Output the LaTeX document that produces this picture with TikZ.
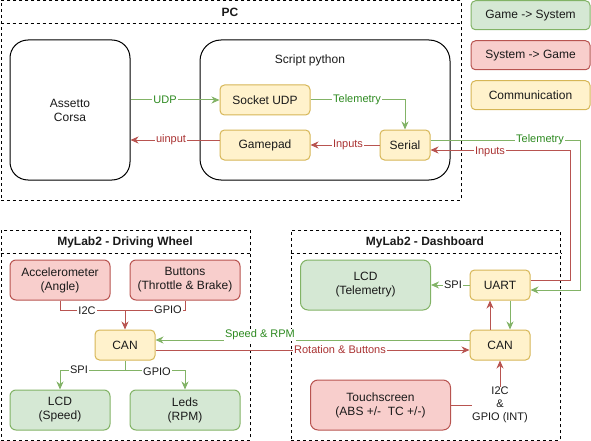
\documentclass[tikz,border=0pt]{standalone}
\usepackage{fontspec}
\setmainfont{Liberation Sans}
\usetikzlibrary{arrows.meta,calc}
\definecolor{gfill}{HTML}{D5E8D4}
\definecolor{gline}{HTML}{82B366}
\definecolor{rfill}{HTML}{F8CECC}
\definecolor{rline}{HTML}{B85450}
\definecolor{yfill}{HTML}{FFF2CC}
\definecolor{yline}{HTML}{D6B656}
\definecolor{gtext}{HTML}{2D8A20}
\definecolor{rtext}{HTML}{AA3333}
\definecolor{boxtext}{HTML}{1A1A1A}
\tikzset{
  base/.style={draw, line width=1pt, align=center, inner sep=0pt, text=boxtext,
    font=\fontsize{12}{14}\selectfont},
  gbox/.style={base, fill=gfill, draw=gline},
  rbox/.style={base, fill=rfill, draw=rline},
  ybox/.style={base, fill=yfill, draw=yline},
  wbox/.style={base, fill=white, draw=black},
  frame/.style={draw=black, line width=0.9pt, dash pattern=on 3pt off 3pt, inner sep=0pt},
  ftitle/.style={font=\bfseries\fontsize{12}{14}\selectfont, text=boxtext, inner sep=0pt},
  gline/.style={draw=gline, line width=1pt},
  rline/.style={draw=rline, line width=1pt},
  tip/.style={-{Stealth[length=8pt,width=7pt,inset=2.5pt]}},
  glbl/.style={fill=white, text=gtext, inner sep=1pt, font=\fontsize{11}{13}\selectfont},
  rlbl/.style={fill=white, text=rtext, inner sep=1pt, font=\fontsize{11}{13}\selectfont},
  klbl/.style={fill=white, text=boxtext, inner sep=1pt, align=center, font=\fontsize{11}{13}\selectfont},
}
\begin{document}
\begin{tikzpicture}[x=1pt,y=-1pt]
\useasboundingbox (0,0) rectangle (591,441);

% frames
\node[frame, minimum width=460pt, minimum height=199.5pt, anchor=north west] (pc) at (0.5,0.5) {};
\draw[frame] ($(pc.north west)+(0,22.5)$) -- ($(pc.north east)+(0,22.5)$);
\node[ftitle] (pct) at (230,12) {PC};

\node[frame, minimum width=249.5pt, minimum height=209.5pt, anchor=north west] (dw) at (0.5,230) {};
\draw[frame] ($(dw.north west)+(0,23)$) -- ($(dw.north east)+(0,23)$);
\node[ftitle] (dwt) at (125,242) {MyLab2 - Driving Wheel};

\node[frame, minimum width=269.5pt, minimum height=209.5pt, anchor=north west] (db) at (290.5,230) {};
\draw[frame] ($(db.north west)+(0,23)$) -- ($(db.north east)+(0,23)$);
\node[ftitle] (dbt) at (425,242) {MyLab2 - Dashboard};

% legend
\node[gbox, rounded corners=4.5pt, minimum width=119pt, minimum height=29pt] (lg1) at (530.5,15.25) {Game -> System};
\node[rbox, rounded corners=4.5pt, minimum width=119pt, minimum height=29pt] (lg2) at (530.5,55.25) {System -> Game};
\node[ybox, rounded corners=4.5pt, minimum width=119pt, minimum height=29pt] (lg3) at (530.5,95.25) {Communication};

% PC
\node[wbox, rounded corners=18pt, minimum width=120pt, minimum height=140pt] (ac) at (70,110) {Assetto\\Corsa};
\node[wbox, rounded corners=21pt, minimum width=250pt, minimum height=140pt] (sp) at (325,110) {};
\node[base, draw=none] (spt) at (310,60) {Script python};
\node[ybox, rounded corners=4.5pt, minimum width=90pt, minimum height=30pt] (sock) at (265,100) {Socket UDP};
\node[ybox, rounded corners=4.5pt, minimum width=90pt, minimum height=30pt] (gp) at (265,145) {Gamepad};
\node[ybox, rounded corners=4.5pt, minimum width=50pt, minimum height=30pt] (ser) at (405,145) {Serial};

\draw[gline, tip] (sock.west -| ac.east) -- (sock.west);
\node[glbl] (l1) at (165,100) {UDP};
\draw[rline, tip] ($(gp.west)+(0,-5)$) -- ($(gp.west -| ac.east)+(0,-5)$);
\node[rlbl] (l2) at (171,140) {uinput};
\draw[gline, tip] (sock.east) -- (sock.east -| ser.north) -- (ser.north);
\node[glbl] (l3) at (357,100) {Telemetry};
\draw[rline, tip] (ser.west) -- (gp.east);
\node[rlbl] (l4) at (348,145) {Inputs};

% Driving wheel
\node[rbox, rounded corners=6pt, minimum width=100pt, minimum height=40pt] (acc) at (60,280) {Accelerometer\\(Angle)};
\node[rbox, rounded corners=6pt, minimum width=110pt, minimum height=40pt] (btn) at (185,280) {Buttons\\(Throttle \& Brake)};
\node[ybox, rounded corners=4.5pt, minimum width=60pt, minimum height=30pt] (dcan) at (125,345) {CAN};
\node[gbox, rounded corners=6pt, minimum width=100pt, minimum height=40pt] (lcd1) at (60,410) {LCD\\(Speed)};
\node[gbox, rounded corners=6pt, minimum width=110pt, minimum height=40pt] (leds) at (185,410) {Leds\\(RPM)};

\coordinate (j1) at (125,310);
\coordinate (j2) at (125,370);
\draw[rline, tip] (acc.south) |- (j1) -- (dcan.north);
\draw[rline] (btn.south) |- (j1);
\node[klbl] (l5) at (87,311) {I2C};
\node[klbl] (l6) at (168,310) {GPIO};
\draw[gline, tip] (dcan.south) -- (j2) -| (lcd1.north);
\draw[gline, tip] (j2) -| (leds.north);
\node[klbl] (l7) at (79,370) {SPI};
\node[klbl] (l8) at (157,372) {GPIO};

% Dashboard
\node[gbox, rounded corners=7.5pt, minimum width=130pt, minimum height=50pt] (lcd2) at (365.5,285) {LCD\\(Telemetry)};
\node[ybox, rounded corners=4.5pt, minimum width=60pt, minimum height=30pt] (uart) at (500,285) {UART};
\node[ybox, rounded corners=4.5pt, minimum width=60pt, minimum height=30pt] (dbcan) at (500,345) {CAN};
\node[rbox, rounded corners=7.5pt, minimum width=140pt, minimum height=50pt] (touch) at (380.5,405) {Touchscreen\\(ABS +/-\ \ TC +/-)};

\draw[gline, tip] (uart.west) -- (lcd2.east);
\node[klbl] (l9) at (453,285) {SPI};
\draw[gline, tip] ($(uart.south)+(10,0)$) -- ($(dbcan.north)+(10,0)$);
\draw[rline, tip] ($(dbcan.north)+(-10,0)$) -- ($(uart.south)+(-10,0)$);

\node[klbl, inner sep=0pt] (i2c) at (500,405) {I2C\\\&\\GPIO (INT)};
\draw[rline] (touch.east) -- (touch.east -| i2c.west);
\draw[rline, tip] (i2c.north) -- (dbcan.south);

% between boards
\draw[gline, tip] ($(dbcan.west)+(0,-5)$) -- ($(dcan.east)+(0,-5)$);
\node[glbl] (l10) at (260,335) {Speed \& RPM};
\draw[rline, tip] ($(dcan.east)+(0,5)$) -- ($(dbcan.west)+(0,5)$);
\node[rlbl] (l11) at (340,350) {Rotation \& Buttons};

% PC <-> dashboard
\draw[gline, tip] ($(ser.east)+(0,-5)$) -- ++(150,0) |- ($(uart.east)+(0,5)$);
\node[glbl] (l12) at (540,140) {Telemetry};
\draw[rline, tip] ($(uart.east)+(0,-5)$) -- ++(40,0) |- ($(ser.east)+(0,5)$);
\node[rlbl] (l13) at (490,152) {Inputs};
\end{tikzpicture}
\end{document}
